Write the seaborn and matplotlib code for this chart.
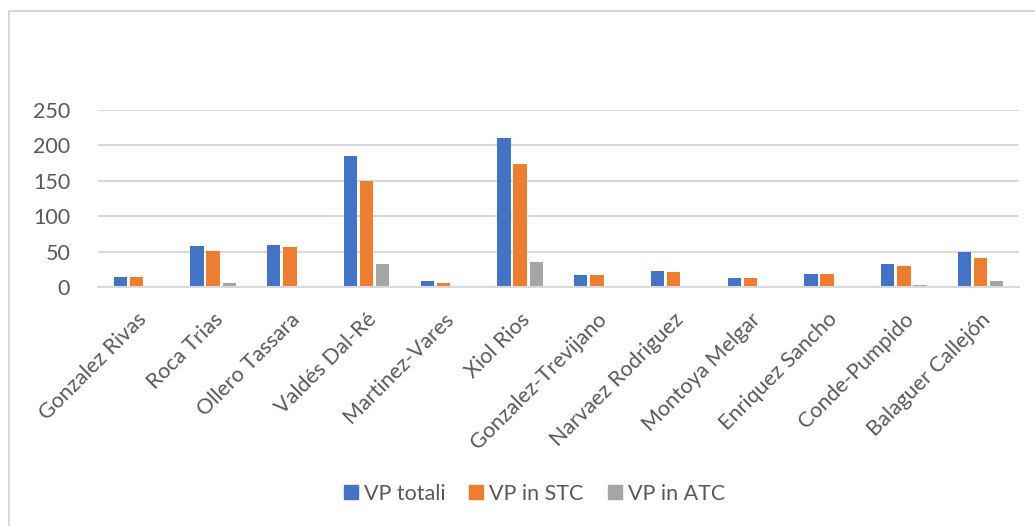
import matplotlib
matplotlib.use("Agg")
import matplotlib.pyplot as plt
import seaborn as sns
import pandas as pd
from matplotlib.lines import Line2D

# Data
judges = [
    "Gonzalez Rivas", "Roca Trias", "Ollero Tassara", "Valdés Dal-Ré",
    "Martinez-Vares", "Xiol Rios", "Gonzalez-Trevijano", "Narvaez Rodriguez",
    "Montoya Melgar", "Enriquez Sancho", "Conde-Pumpido", "Balaguer Callejón",
]
vp_totali = [14, 58, 59, 185, 8, 211, 17, 23, 13, 18, 32, 50]
vp_stc = [14, 51, 56, 150, 6, 174, 17, 21, 13, 18, 29, 41]
vp_atc = [0, 5, 2, 33, 1, 36, 0, 1, 0, 0, 3, 8]

series = ["VP totali", "VP in STC", "VP in ATC"]
colors = ["#4472C4", "#ED7D31", "#A5A5A5"]

df = pd.DataFrame({
    "Giudice": judges * 3,
    "Serie": [series[0]] * 12 + [series[1]] * 12 + [series[2]] * 12,
    "Valore": vp_totali + vp_stc + vp_atc,
})

sns.set_style("white")
plt.rcParams["font.family"] = ["Lato", "DejaVu Sans"]
text_color = "#595959"
fs = 15.5

fig = plt.figure(figsize=(10.35, 5.26), dpi=100)
ax = fig.add_axes([98 / 1035, 1 - 287 / 526, 921 / 1035, 177 / 526])

sns.barplot(data=df, x="Giudice", y="Valore", hue="Serie",
            palette=colors, width=0.63, gap=0.17, ax=ax,
            saturation=1, legend=False, edgecolor="none")

ax.set_ylim(0, 250)
ax.set_xlim(-0.5, len(judges) - 0.5)
ax.set_yticks([0, 50, 100, 150, 200, 250])
ax.yaxis.grid(True, color="#D9D9D9", linewidth=1.5)
ax.set_axisbelow(True)
for s in ["top", "right", "left"]:
    ax.spines[s].set_visible(False)
ax.spines["bottom"].set_color("#D9D9D9")
ax.spines["bottom"].set_linewidth(1.5)
ax.set_xlabel("")
ax.set_ylabel("")
ax.tick_params(axis="y", length=0, pad=20, labelsize=fs, labelcolor=text_color)
ax.tick_params(axis="x", length=0, pad=16, labelsize=fs, labelcolor=text_color)
plt.setp(ax.get_xticklabels(), rotation=45, ha="right", rotation_mode="anchor")

handles = [Line2D([], [], marker="s", linestyle="none", markersize=10.5,
                  markerfacecolor=c, markeredgecolor=c) for c in colors]
fig.legend(handles, series, loc="center", bbox_to_anchor=(0.515, 1 - 494 / 526),
           ncol=3, frameon=False, fontsize=fs, labelcolor=text_color,
           handletextpad=0.15, columnspacing=1.0, handlelength=0.9)

# chart frame (top and left edges visible)
fig.add_artist(Line2D([9 / 1035, 1], [1 - 11 / 526] * 2, color="#D9D9D9", linewidth=1.5))
fig.add_artist(Line2D([9 / 1035] * 2, [0, 1 - 11 / 526], color="#D9D9D9", linewidth=1.5))

fig.savefig("out.png", dpi=100, facecolor="white")
